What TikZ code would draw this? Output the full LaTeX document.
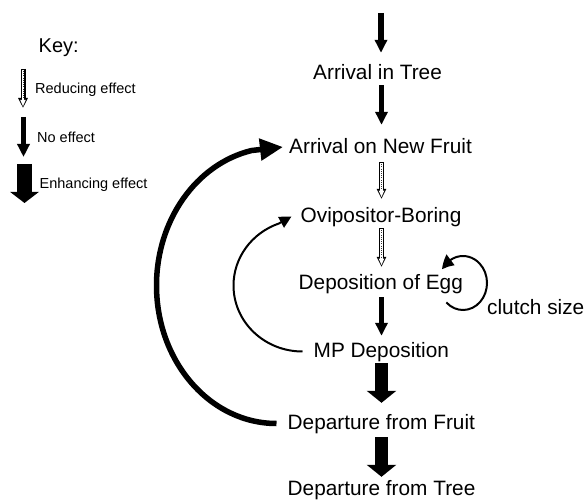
\documentclass[tikz,border=0pt]{standalone}
\usepackage{fontspec}
\setmainfont{Liberation Sans}
\usetikzlibrary{arrows.meta,calc,bending}
\begin{document}
\begin{tikzpicture}[x=1pt,y=-1pt,
  lbl/.style={font=\fontsize{20.8}{24}\selectfont, inner sep=0pt, anchor=base west, text height=15pt, text depth=4pt},
  keylbl/.style={font=\fontsize{14.5}{17}\selectfont, inner sep=0pt, anchor=base west},
  noeff/.style={line width=5.5pt, -{Triangle[width=12pt,length=13pt]}},
  enh/.style={line width=13pt, -{Triangle[width=29pt,length=12pt]}},
  keyenh/.style={line width=15pt, -{Triangle[width=28pt,length=11pt]}},
  redarr/.style={line width=5pt, -{Triangle[width=9pt,length=10pt]},
    postaction={draw=white, line width=2.6pt, -{Triangle[width=5pt,length=6.5pt]}, shorten >=1.6pt, shorten <=0.8pt},
    postaction={draw=black!80, line width=1pt, dash pattern=on 1pt off 1.2pt, -, shorten >=9pt, shorten <=2pt}},
  bigloop/.style={line width=5.5pt, -{Triangle[width=21pt,length=23pt]}},
  smallloop/.style={line width=2pt, -{Triangle[width=12pt,length=12pt]}},
  clutchloop/.style={line width=2pt, -{Triangle[width=13pt,length=13pt,bend]}}
]
\useasboundingbox (0,0) rectangle (587,500);

% key
\node[font=\fontsize{20}{24}\selectfont, inner sep=0pt, anchor=base west] (key) at (38.5,53) {Key:};
\node[keylbl] (kr) at (35,94) {Reducing effect};
\node[keylbl] (kn) at (37,143) {No effect};
\node[keylbl] (ke) at (39.5,189) {Enhancing effect};
\coordinate (kr1) at (23,69);  \coordinate (kr2) at (23,108);
\coordinate (kn1) at (23.5,117); \coordinate (kn2) at (23.5,157);
\coordinate (ke1) at (24.5,164); \coordinate (ke2) at (24.5,203);
\draw[redarr] (kr1) -- (kr2);
\draw[noeff] (kn1) -- (kn2);
\draw[keyenh] (ke1) -- (ke2);

% main column
\coordinate (ax) at (381.5,0);
\coordinate (top) at (381,13);
\node[lbl] (AiT) at (313,80) {Arrival in Tree};
\node[lbl] (AoNF) at (289,154) {Arrival on New Fruit};
\node[lbl] (Ovi) at (300.5,223) {Ovipositor-Boring};
\node[lbl] (DoE) at (298.5,290) {Deposition of Egg};
\node[lbl] (MP) at (313.5,357) {MP Deposition};
\node[lbl] (DfF) at (287.5,429) {Departure from Fruit};
\node[lbl] (DfT) at (287.5,495) {Departure from Tree};
\node[lbl] (cs) at (487,314) {clutch size};

\draw[noeff] (top) -- ($(AiT.north -| top)+(0,-12)$);
\draw[noeff] ($(AiT.south -| ax)+(0,1)$) -- ($(AoNF.north -| ax)+(0,-14)$);
\draw[redarr] ($(AoNF.south -| ax)+(0,4)$) -- ($(Ovi.north -| ax)+(0,-9)$);
\draw[redarr] ($(Ovi.south -| ax)+(0,1)$) -- ($(DoE.north -| ax)+(0,-8)$);
\draw[noeff] ($(DoE.south -| ax)+(0,3)$) -- ($(MP.north -| ax)+(0,-6)$);
\draw[enh] ($(MP.south -| ax)+(0,2)$) -- ($(DfF.north -| ax)+(0,-11)$);
\draw[enh] ($(DfF.south -| ax)+(0,4)$) -- ($(DfT.north -| ax)+(0,-3)$);

% feedback loops
\draw[bigloop] ($(DfF.west)+(-11,0)$) arc[start angle=90, end angle=258, x radius=120, y radius=138]
  -- ($(AoNF.west)+(-6,-1.5)$);
\draw[smallloop] ($(MP.west)+(-11,0)$) arc[start angle=90, end angle=250, x radius=69, y radius=66]
  -- ($(Ovi.west)+(-9,-1)$);

% clutch size loop
\coordinate (cl) at (463,283);
\draw[clutchloop] ($(cl)+(134:24 and 27)$) arc[start angle=134, end angle=-150, x radius=24, y radius=27];
\end{tikzpicture}
\end{document}
